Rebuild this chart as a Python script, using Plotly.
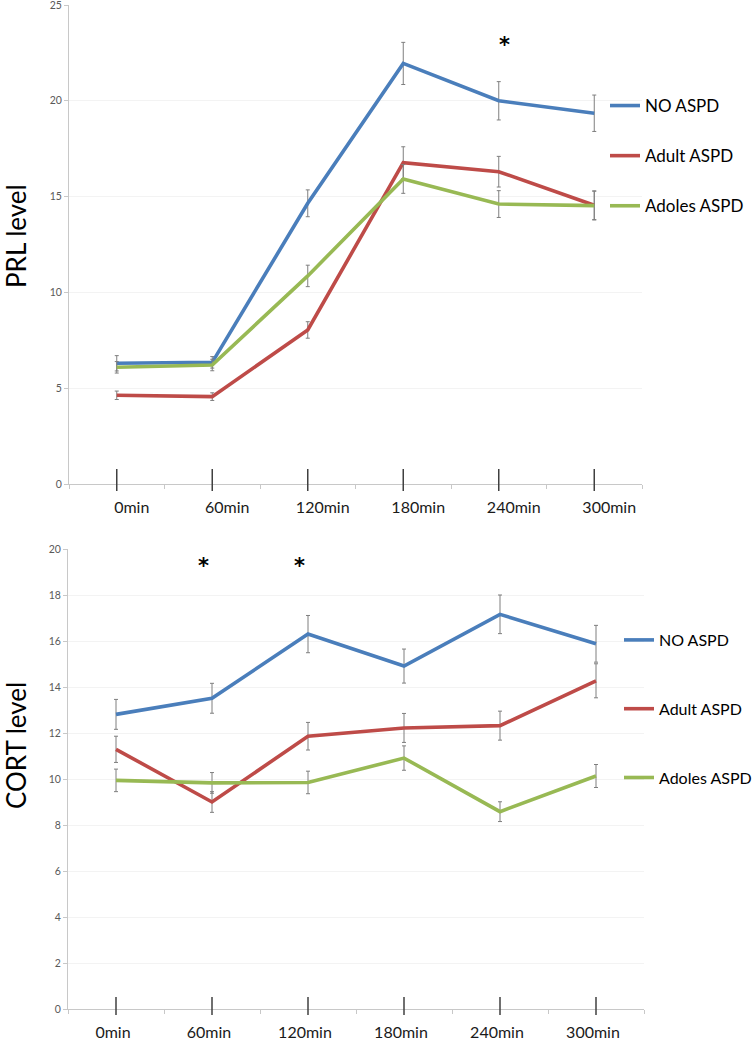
import plotly.graph_objects as go

categories = ["0min", "60min", "120min", "180min", "240min", "300min"]
groups = ["NO ASPD", "Adult ASPD", "Adoles ASPD"]
colors = ["#4a7ebb", "#be4b48", "#98b954"]

# PRL level (top panel)
prl_no = [6.30, 6.35, 14.65, 21.95, 20.00, 19.35]
prl_no_err = [0.40, 0.30, 0.70, 1.10, 1.00, 0.95]
prl_adult = [4.63, 4.56, 8.04, 16.77, 16.30, 14.55]
prl_adult_err = [0.22, 0.20, 0.43, 0.83, 0.80, 0.75]
prl_adoles = [6.09, 6.21, 10.86, 15.92, 14.61, 14.53]
prl_adoles_err = [0.30, 0.30, 0.56, 0.75, 0.70, 0.75]
prl_sig = ["240min"]

# CORT level (bottom panel)
cort_no = [12.81, 13.51, 16.30, 14.91, 17.16, 15.88]
cort_no_err = [0.65, 0.65, 0.81, 0.74, 0.84, 0.80]
cort_adult = [11.29, 9.00, 11.86, 12.22, 12.32, 14.27]
cort_adult_err = [0.57, 0.45, 0.60, 0.63, 0.63, 0.74]
cort_adoles = [9.94, 9.83, 9.85, 10.91, 8.58, 10.13]
cort_adoles_err = [0.49, 0.45, 0.49, 0.53, 0.43, 0.50]
cort_sig = ["60min", "120min"]

W, H = 755, 1050
FONT = "Lato"

fig = go.Figure()

panels = [
    dict(xa="x", ya="y", legend="legend",
         series=[prl_no, prl_adult, prl_adoles],
         errs=[prl_no_err, prl_adult_err, prl_adoles_err]),
    dict(xa="x2", ya="y2", legend="legend2",
         series=[cort_no, cort_adult, cort_adoles],
         errs=[cort_no_err, cort_adult_err, cort_adoles_err]),
]

for p in panels:
    for name, col, vals, err in zip(groups, colors, p["series"], p["errs"]):
        fig.add_trace(go.Scatter(
            x=categories, y=vals, name=name, mode="lines",
            line=dict(color=col, width=3.6),
            error_y=dict(type="data", array=err, visible=True,
                         color="#7f7f7f", thickness=1, width=2),
            xaxis=p["xa"], yaxis=p["ya"], legend=p["legend"],
            legendgroup=p["legend"] + name, hoverinfo="skip",
        ))

axis_line = "#c8c8c8"
xcommon = dict(type="category", range=[-0.5, 5.5], showline=True,
               linecolor=axis_line, linewidth=1, ticks="outside",
               tickson="boundaries", ticklen=4, tickcolor=axis_line,
               showgrid=False, zeroline=False, automargin=False,
               ticklabelstandoff=9, fixedrange=True, ticklabeloverflow="allow",
               tickfont=dict(family=FONT, size=16, color="#1a1a1a"))
ycommon = dict(showline=True, linecolor=axis_line, linewidth=1,
               ticks="outside", ticklen=4, tickcolor=axis_line,
               showgrid=True, gridcolor="#f3f3f3", zeroline=False,
               automargin=False, fixedrange=True, ticklabeloverflow="allow",
               tickfont=dict(family=FONT, size=10.5, color="#595959"))

top_x = [69 / W, 642 / W]
top_y = [1 - 484 / H, 1 - 5 / H]
bot_x = [68 / W, 644 / W]
bot_y = [1 - 1009 / H, 1 - 549 / H]

fig.update_layout(
    width=W, height=H,
    margin=dict(l=0, r=0, t=0, b=0, autoexpand=False),
    paper_bgcolor="white", plot_bgcolor="white",
    font=dict(family=FONT, color="#000000"),
    hovermode=False,
    xaxis=dict(xcommon, domain=top_x, anchor="y", ticklabelshift=15),
    yaxis=dict(ycommon, domain=top_y, anchor="x", range=[0, 25], dtick=5),
    xaxis2=dict(xcommon, domain=bot_x, anchor="y2", ticklabelshift=-3),
    yaxis2=dict(ycommon, domain=bot_y, anchor="x2", range=[0, 20], dtick=2),
    legend=dict(x=605 / W, xanchor="left", y=1 - 88 / H, yanchor="top",
                font=dict(family=FONT, size=17, color="#000000"),
                tracegroupgap=25, bgcolor="rgba(0,0,0,0)"),
    legend2=dict(x=619 / W, xanchor="left", y=1 - 623 / H, yanchor="top",
                 font=dict(family=FONT, size=16, color="#000000"),
                 tracegroupgap=45, bgcolor="rgba(0,0,0,0)"),
    showlegend=True,
)

# big category tick marks crossing the x axis
shapes = []
for c in categories:
    shapes.append(dict(type="line", xref="x", yref="y domain", x0=c, x1=c,
                       y0=-7 / 479, y1=15 / 479,
                       line=dict(color="#404040", width=1.5)))
    shapes.append(dict(type="line", xref="x2", yref="y2 domain", x0=c, x1=c,
                       y0=-6 / 460, y1=12 / 460,
                       line=dict(color="#404040", width=1.5)))
fig.update_layout(shapes=shapes)

title_font = dict(family=FONT, size=26, color="#000")
annotations = [
    dict(text="PRL level", x=16 / W, y=1 - 236 / H, xref="paper", yref="paper",
         xanchor="center", yanchor="middle", textangle=-90, showarrow=False,
         font=title_font),
    dict(text="CORT level", x=16 / W, y=1 - 746 / H, xref="paper", yref="paper",
         xanchor="center", yanchor="middle", textangle=-90, showarrow=False,
         font=title_font),
]
star_font = dict(family="DejaVu Sans", size=21, color="#000")
for c in prl_sig:
    annotations.append(dict(text="<b>*</b>", x=c, y=23.1, xref="x", yref="y", showarrow=False,
                            xshift=6, yshift=-4, font=star_font))
for c in cort_sig:
    annotations.append(dict(text="<b>*</b>", x=c, y=19.45, xref="x2", yref="y2", showarrow=False,
                            xshift=-9, yshift=-4, font=star_font))
fig.update_layout(annotations=annotations)

fig.write_html(
    "out.html",
    config={"displayModeBar": False, "staticPlot": True},
    post_script="document.body.style.margin='0';document.body.style.overflow='hidden';",
)
